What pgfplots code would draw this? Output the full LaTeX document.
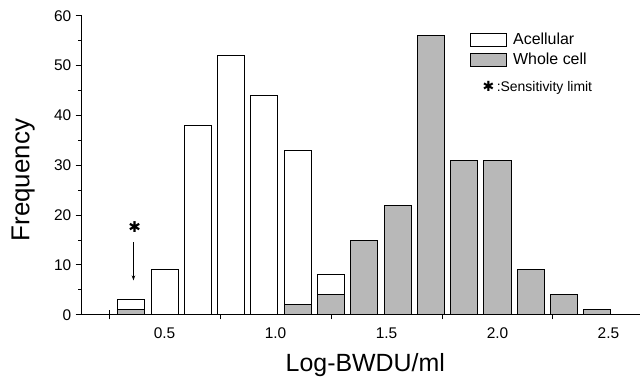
\documentclass[border=0pt]{standalone}
\usepackage{fontspec}
\setmainfont{Liberation Sans}
\newfontfamily\djv{DejaVu Sans}
\usepackage{pgfplots}
\pgfplotsset{compat=1.18}
\usetikzlibrary{arrows.meta}

\begin{document}
\begin{tikzpicture}
\begin{axis}[
  name=ax,
  scale only axis,
  width=558bp, height=299bp,
  xmin=0.127, xmax=2.642, ymin=0, ymax=60,
  axis lines=left,
  axis line style={-, line width=1.3bp},
  ybar, bar width=27bp,
  ytick={0,10,...,60},
  minor ytick={5,15,...,55},
  tick align=outside,
  major tick length=6bp, minor tick length=3.5bp,
  every tick/.style={black, line width=1bp},
  xtick={0.5,1.0,1.5,2.0,2.5},
  xticklabels={0.5,1.0,1.5,2.0,2.5},
  major x tick style={draw=none},
  extra x ticks={0.25,0.75,1.25,1.75,2.25},
  extra x tick labels={},
  extra x tick style={tick align=center, major tick length=9bp, major x tick style={draw=black, line width=1bp}},
  /pgf/number format/assume math mode=true,
  yticklabel style={font=\fontsize{15.5}{17}\selectfont, xshift=-1bp},
  xticklabel style={font=\fontsize{15.5}{17}\selectfont, yshift=-3bp},
  xlabel={Log-BWDU/ml},
  ylabel={Frequency},
  xlabel style={at={(axis description cs:0.508,-0.169)}, anchor=center, font=\fontsize{25}{28}\selectfont},
  ylabel style={at={(axis description cs:-0.105,0.45)}, anchor=center, font=\fontsize{26}{29}\selectfont},
  legend style={at={(axis description cs:0.69,0.955)}, anchor=north west, draw=none, fill=none,
    font=\fontsize{16}{18}\selectfont, row sep=3bp, cells={anchor=west}},
  legend image code/.code={\draw[#1, line width=1bp] (0bp,-6.5bp) rectangle (36bp,6.5bp); \path (40bp,0bp);},
]
\addplot[bar shift=0pt, draw=black, line width=1bp, fill=white] coordinates {
  (0.35,3) (0.5,9) (0.65,38) (0.8,52) (0.95,44) (1.1,33) (1.25,8)
};
\addlegendentry{Acellular}
\addplot[bar shift=0pt, draw=black, line width=1bp, fill=black!28] coordinates {
  (0.35,1) (1.1,2) (1.25,4) (1.4,15) (1.55,22) (1.7,56) (1.85,31) (2.0,31) (2.15,9) (2.3,4) (2.45,1)
};
\addlegendentry{Whole cell}
\node[anchor=west, font=\fontsize{14}{16}\selectfont] at (axis description cs:0.712,0.758) {{\djv\fontsize{14}{16}\selectfont ✱}\,:Sensitivity limit};
\node[font=\djv\fontsize{15}{17}\selectfont] at (axis cs:0.365,17.6) {✱};
\draw[-{Stealth[length=5bp,width=3.5bp]}, line width=0.8bp] (axis cs:0.36,14.6) -- (axis cs:0.36,6.9);
\end{axis}
\path (ax.south west) ++(-81.7bp,-66.5bp);
\path (ax.north east) ++(2bp,15.7bp);
\end{tikzpicture}
\end{document}
